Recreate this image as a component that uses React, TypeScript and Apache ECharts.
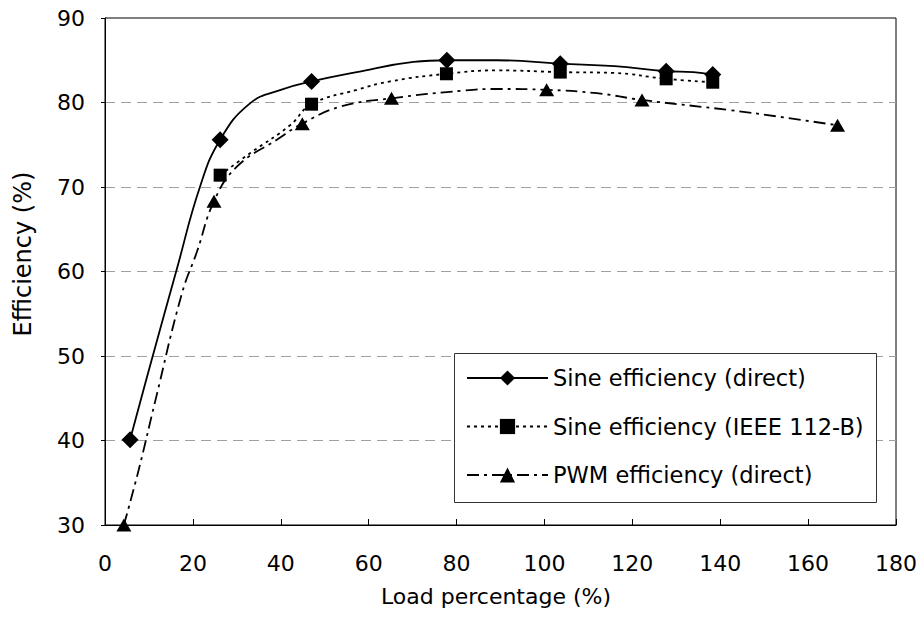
import React, { useEffect, useRef } from "react";
import * as echarts from "echarts";

const seriesNames = [
  "Sine efficiency (direct)",
  "Sine efficiency (IEEE 112-B)",
  "PWM efficiency (direct)",
];

// marker points (load %, efficiency %)
const sineDirectMarkers: number[][] = [
  [5.7, 40.1], [26.2, 75.6], [47.0, 82.5], [77.8, 85.0], [103.6, 84.6], [127.7, 83.7], [138.3, 83.3],
];
// intermediate points of the drawn curve (no marker)
const sineDirectCurve: number[][] = [
  [10.6, 49.5], [16.3, 60.2], [21.6, 70.0], [33.0, 79.9], [40.0, 81.5], [57.3, 83.6],
  [70.2, 84.8], [89.1, 85.0], [116.0, 84.3], [133.9, 83.6],
];

const sineIeeeMarkers: number[][] = [
  [26.2, 71.4], [47.0, 79.8], [77.7, 83.4], [103.6, 83.6], [127.7, 82.8], [138.3, 82.4],
];
const sineIeeeCurve: number[][] = [
  [33.0, 74.0], [42.1, 77.3], [57.3, 81.5], [64.9, 82.5], [89.1, 83.8], [115.7, 83.5],
];

const pwmMarkers: number[][] = [
  [4.3, 30.0], [24.8, 68.3], [44.9, 77.5], [65.2, 80.5], [100.5, 81.5], [122.2, 80.3], [166.7, 77.3],
];
const pwmCurve: number[][] = [
  [7.7, 36.6], [11.4, 44.6], [17.5, 57.4], [20.9, 62.3], [30.0, 72.4], [39.1, 75.6], [53.5, 79.5],
  [81.5, 81.4], [89.1, 81.6], [111.9, 81.1], [142.2, 79.1], [153.6, 78.3],
];

const xAxisRange = [0, 180, 20];
const yAxisRange = [30, 90, 10];

function buildData(curve: number[][], markers: number[][]) {
  const items: any[] = [
    ...curve.map((p) => ({ value: p, symbol: "none" })),
    ...markers.map((p) => ({ value: p })),
  ];
  items.sort((a, b) => a.value[0] - b.value[0]);
  return items;
}

const FONT = '"DejaVu Sans", "Liberation Sans", Arial, sans-serif';

export default function App() {
  const ref = useRef<HTMLDivElement>(null);
  useEffect(() => {
    if (!ref.current) return;
    const chart = echarts.init(ref.current, undefined, { renderer: "svg" });
    const common = {
      type: "line",
      smooth: 0.45,
      showSymbol: true,
      itemStyle: { color: "#000" },
      emphasis: { disabled: true },
    };
    chart.setOption({
      animation: false,
      backgroundColor: "#fff",
      grid: {
        left: 105,
        top: 18,
        right: 27,
        bottom: 99,
        show: true,
        borderColor: "#000",
        borderWidth: 1,
        backgroundColor: "transparent",
      },
      xAxis: {
        type: "value",
        min: xAxisRange[0],
        max: xAxisRange[1],
        interval: xAxisRange[2],
        axisLine: { show: true, lineStyle: { color: "#000", width: 1 } },
        axisTick: { show: true, inside: true, length: 6, lineStyle: { color: "#000" } },
        axisLabel: { color: "#000", fontSize: 22, fontFamily: FONT, margin: 27 },
        splitLine: { show: false },
      },
      yAxis: {
        type: "value",
        min: yAxisRange[0],
        max: yAxisRange[1],
        interval: yAxisRange[2],
        axisLine: { show: true, lineStyle: { color: "#000", width: 1 } },
        axisTick: { show: true, inside: false, length: 4, lineStyle: { color: "#000" } },
        axisLabel: { color: "#000", fontSize: 22, fontFamily: FONT, margin: 20 },
        splitLine: {
          show: true,
          showMinLine: false,
          showMaxLine: false,
          lineStyle: { color: "#a0a0a0", type: [10, 6], width: 1 },
        },
      },
      legend: {
        orient: "vertical",
        left: 466,
        top: 366,
        itemWidth: 81,
        itemHeight: 19,
        itemGap: 24.5,
        padding: 0,
        selectedMode: false,
        textStyle: { color: "#000", fontSize: 22.5, fontFamily: FONT, lineHeight: 24 },
        data: seriesNames,
      },
      graphic: [
        {
          type: "rect",
          z: 3,
          shape: { x: 454.5, y: 353.5, width: 422, height: 149 },
          style: { fill: "#fff", stroke: "#333", lineWidth: 1 },
        },
        {
          type: "text",
          x: 496,
          y: 596,
          style: {
            text: "Load percentage (%)",
            fontSize: 22,
            fontFamily: FONT,
            fill: "#000",
            align: "center",
            verticalAlign: "middle",
            textAlign: "center",
            textVerticalAlign: "middle",
          },
        },
        {
          type: "text",
          x: 23,
          y: 254,
          rotation: Math.PI / 2,
          style: {
            text: "Efficiency (%)",
            fontSize: 24,
            fontFamily: FONT,
            fill: "#000",
            align: "center",
            verticalAlign: "middle",
            textAlign: "center",
            textVerticalAlign: "middle",
          },
        },
      ],
      series: [
        {
          ...common,
          name: seriesNames[0],
          symbol: "diamond",
          symbolSize: 17,
          lineStyle: { color: "#000", width: 1.8, type: "solid" },
          data: buildData(sineDirectCurve, sineDirectMarkers),
        },
        {
          ...common,
          name: seriesNames[1],
          symbol: "rect",
          symbolSize: 13,
          lineStyle: { color: "#000", width: 1.8, type: [3, 4] },
          data: buildData(sineIeeeCurve, sineIeeeMarkers),
        },
        {
          ...common,
          name: seriesNames[2],
          symbol: "triangle",
          symbolSize: [15, 13],
          lineStyle: { color: "#000", width: 1.8, type: [12, 5, 3, 5] },
          data: buildData(pwmCurve, pwmMarkers),
        },
      ],
    });
    return () => chart.dispose();
  }, []);
  return (
    <div
      ref={ref}
      style={{ position: "fixed", left: 0, top: 0, width: 923, height: 624, background: "#fff" }}
    />
  );
}
